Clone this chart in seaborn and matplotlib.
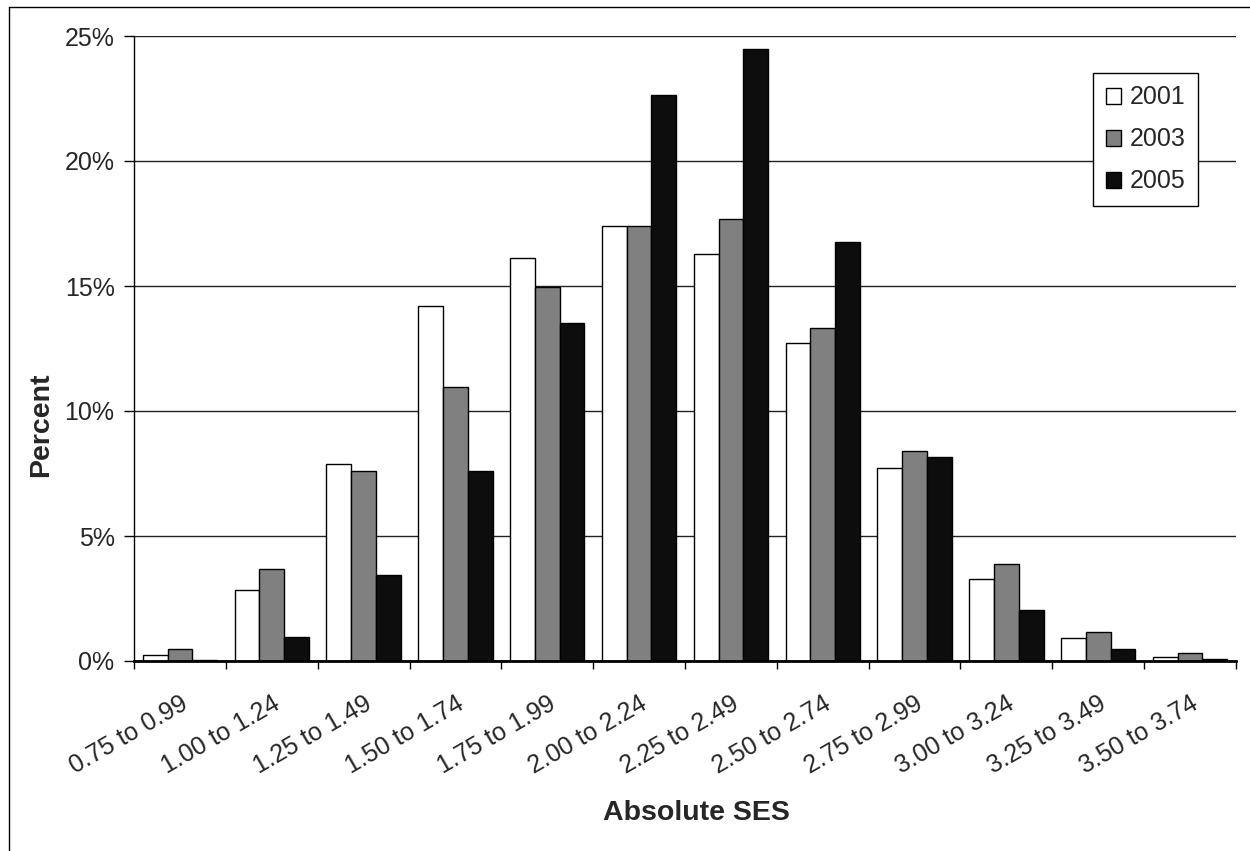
import numpy as np
import pandas as pd
import matplotlib
matplotlib.use('Agg')
import matplotlib.pyplot as plt
import seaborn as sns
from matplotlib.ticker import PercentFormatter, FixedLocator
from matplotlib.lines import Line2D

# data (percent of schools)
bins = ['0.75 to 0.99', '1.00 to 1.24', '1.25 to 1.49', '1.50 to 1.74',
        '1.75 to 1.99', '2.00 to 2.24', '2.25 to 2.49', '2.50 to 2.74',
        '2.75 to 2.99', '3.00 to 3.24', '3.25 to 3.49', '3.50 to 3.74']
years = ['2001', '2003', '2005']
pct_2001 = [0.24, 2.84, 7.90, 14.20, 16.13, 17.39, 16.29, 12.72, 7.71, 3.28, 0.91, 0.15]
pct_2003 = [0.47, 3.67, 7.59, 10.95, 14.97, 17.39, 17.67, 13.32, 8.41, 3.89, 1.17, 0.31]
pct_2005 = [0.04, 0.97, 3.45, 7.59, 13.53, 22.64, 24.47, 16.75, 8.15, 2.03, 0.48, 0.10]
bar_colors = ['#ffffff', '#808080', '#0d0d0d']

df = pd.DataFrame({
    'bin': bins * 3,
    'year': [y for y in years for _ in bins],
    'pct': pct_2001 + pct_2003 + pct_2005,
})

sns.set_style('white')
plt.rcParams['font.family'] = ['Liberation Sans', 'DejaVu Sans']

fig = plt.figure(figsize=(12.5, 8.51), dpi=100)
ax = fig.add_axes([134/1250, 1-661/851, (1236-134)/1250, (661-36)/851])

sns.barplot(data=df, x='bin', y='pct', hue='year', order=bins, hue_order=years,
            palette=bar_colors, width=0.81, gap=0, edgecolor='black', linewidth=1,
            saturation=1, ax=ax)

ax.set_ylim(0, 25)
ax.set_xlim(-0.5, len(bins) - 0.5)
ax.yaxis.set_major_locator(FixedLocator([0, 5, 10, 15, 20, 25]))
ax.yaxis.set_major_formatter(PercentFormatter(decimals=0))
ax.grid(axis='y', color='#222222', linewidth=1)
ax.set_axisbelow(True)

for s in ['top', 'right']:
    ax.spines[s].set_visible(False)
ax.spines['left'].set_color('black')
ax.spines['left'].set_linewidth(1)
ax.spines['bottom'].set_color('black')
ax.spines['bottom'].set_linewidth(2)

ax.tick_params(axis='y', which='major', left=True, length=7, width=1, color='black',
               labelsize=18, pad=7)
ax.tick_params(axis='x', which='major', bottom=False, length=0, labelsize=18, pad=22)
ax.set_xticks(np.arange(len(bins)))
ax.set_xticklabels(bins, rotation=30, ha='right', rotation_mode='anchor')
# tick marks sit between the groups
ax.set_xticks(np.arange(len(bins) + 1) - 0.5, minor=True)
ax.tick_params(axis='x', which='minor', bottom=True, length=6, width=1, color='black')

ax.set_xlabel('Absolute SES', fontsize=20.5, fontweight='bold')
ax.xaxis.set_label_coords((696 - 134) / 1102, (661 - 800) / 625)
ax.set_ylabel('Percent', fontsize=20.5, fontweight='bold')
ax.yaxis.set_label_coords((54 - 134) / 1102, (661 - 425) / 625)

leg = ax.legend(loc='upper right', bbox_to_anchor=((1198 - 134) / 1102, 1 - (73 - 36) / 625),
                borderaxespad=0, fontsize=18, frameon=True, fancybox=False, framealpha=1,
                edgecolor='black', handlelength=0.6, handleheight=0.6, handletextpad=0.35,
                labelspacing=0.72, borderpad=0.5)
leg.get_frame().set_linewidth(1)

# outer chart frame (left and top edges visible in the reference)
fig.add_artist(Line2D([9/1250, 9/1250], [0, 1-7/851], transform=fig.transFigure,
                      color='black', linewidth=1))
fig.add_artist(Line2D([9/1250, 1], [1-7/851, 1-7/851], transform=fig.transFigure,
                      color='black', linewidth=1))

fig.savefig('out.png', dpi=100)
